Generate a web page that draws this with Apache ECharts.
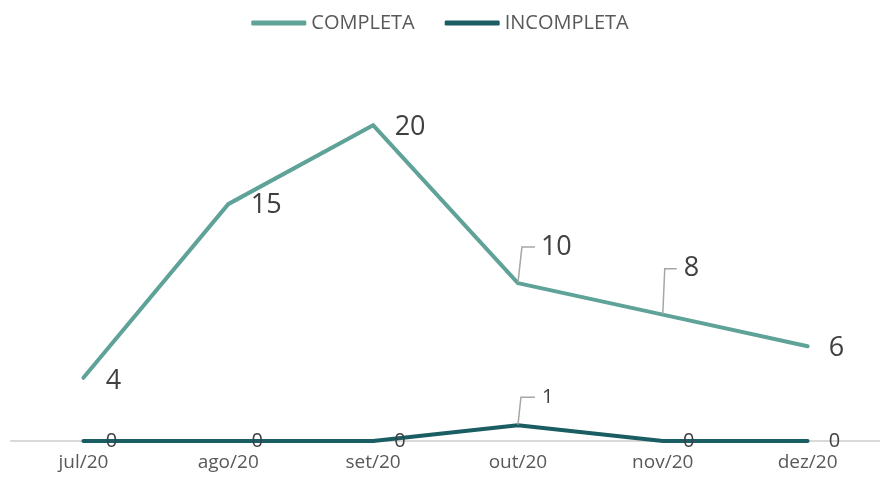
<!DOCTYPE html>
<html>
<head>
<meta charset="utf-8">
<script src="https://cdn.jsdelivr.net/npm/echarts@6/dist/echarts.min.js"></script>
<style>
html,body{margin:0;padding:0;background:#fff;}
#chart{width:880px;height:486px;}
</style>
</head>
<body>
<div id="chart"></div>
<script>
const categories = ['jul/20', 'ago/20', 'set/20', 'out/20', 'nov/20', 'dez/20'];
const completa = [4, 15, 20, 10, 8, 6];
const incompleta = [0, 0, 0, 1, 0, 0];
const seriesNames = ['COMPLETA', 'INCOMPLETA'];

// label placement (style only): [dx, dy] from the point
const completaOffsets = [[30, 3], [38, 1], [37, 2], [17, -36], [14, -46], [29, 2]];
// leader line settings: null = none, else [leftPad, rightPad, length2]
const completaLeader = [null, null, null, [6, 40, 13], [7, 60, 12], null];
const incompletaOffsets = [[28, 0], [29, 0], [27, 0], [17, -28], [26, 0], [27, 0]];
const incompletaLeader = [null, null, null, [7, 40, 14], null, null];

const FONT = '"Open Sans", "Noto Sans", sans-serif';

function buildData(values, leaders, fontSize) {
  return values.map((v, i) => {
    const ld = leaders[i];
    const item = {
      value: v,
      label: {
        show: true,
        position: 'inside',
        fontSize: fontSize,
        color: '#404040',
        fontFamily: FONT
      },
      labelLine: { show: false }
    };
    if (ld) {
      item.label.align = 'left';
      item.label.verticalAlign = 'middle';
      item.label.padding = [0, ld[1], 0, ld[0]];
      item.label.backgroundColor = 'rgba(255,255,255,0)';
      item.labelLine = {
        show: true,
        length2: ld[2],
        minTurnAngle: 0,
        lineStyle: { color: '#A6A6A6', width: 1.5 }
      };
    }
    return item;
  });
}

function placeLabels(offsets) {
  return function (params) {
    const o = offsets[params.dataIndex];
    return { dx: o[0], dy: o[1] };
  };
}

const chart = echarts.init(document.getElementById('chart'), null, { renderer: 'canvas' });
chart.setOption({
  animation: false,
  backgroundColor: '#ffffff',
  legend: {
    data: seriesNames,
    top: 8,
    left: 'center',
    icon: 'roundRect',
    itemWidth: 55,
    itemHeight: 5,
    itemGap: 30,
    textStyle: { fontSize: 20, color: '#595959', fontFamily: FONT, lineHeight: 20 }
  },
  grid: { left: 11, right: -5, top: 62, bottom: 45, containLabel: false },
  xAxis: {
    type: 'category',
    data: categories,
    boundaryGap: true,
    axisTick: { show: false },
    axisLine: { show: true, lineStyle: { color: '#D9D9D9', width: 2 } },
    axisLabel: { color: '#595959', fontSize: 19, fontFamily: FONT, margin: 12 },
    splitLine: { show: false }
  },
  yAxis: {
    type: 'value',
    min: 0,
    max: 24,
    show: false,
    splitLine: { show: false }
  },
  series: [
    {
      name: seriesNames[0],
      type: 'line',
      data: buildData(completa, completaLeader, 27),
      symbol: 'circle',
      symbolSize: 1,
      showSymbol: true,
      lineStyle: { color: '#5FA398', width: 4, cap: 'round', join: 'round' },
      itemStyle: { color: '#5FA398' },
      labelLayout: placeLabels(completaOffsets),
      z: 2
    },
    {
      name: seriesNames[1],
      type: 'line',
      data: buildData(incompleta, incompletaLeader, 20),
      symbol: 'circle',
      symbolSize: 1,
      showSymbol: true,
      lineStyle: { color: '#1A5E63', width: 4, cap: 'round', join: 'round' },
      itemStyle: { color: '#1A5E63' },
      labelLayout: placeLabels(incompletaOffsets),
      z: 3
    }
  ]
});
</script>
</body>
</html>
